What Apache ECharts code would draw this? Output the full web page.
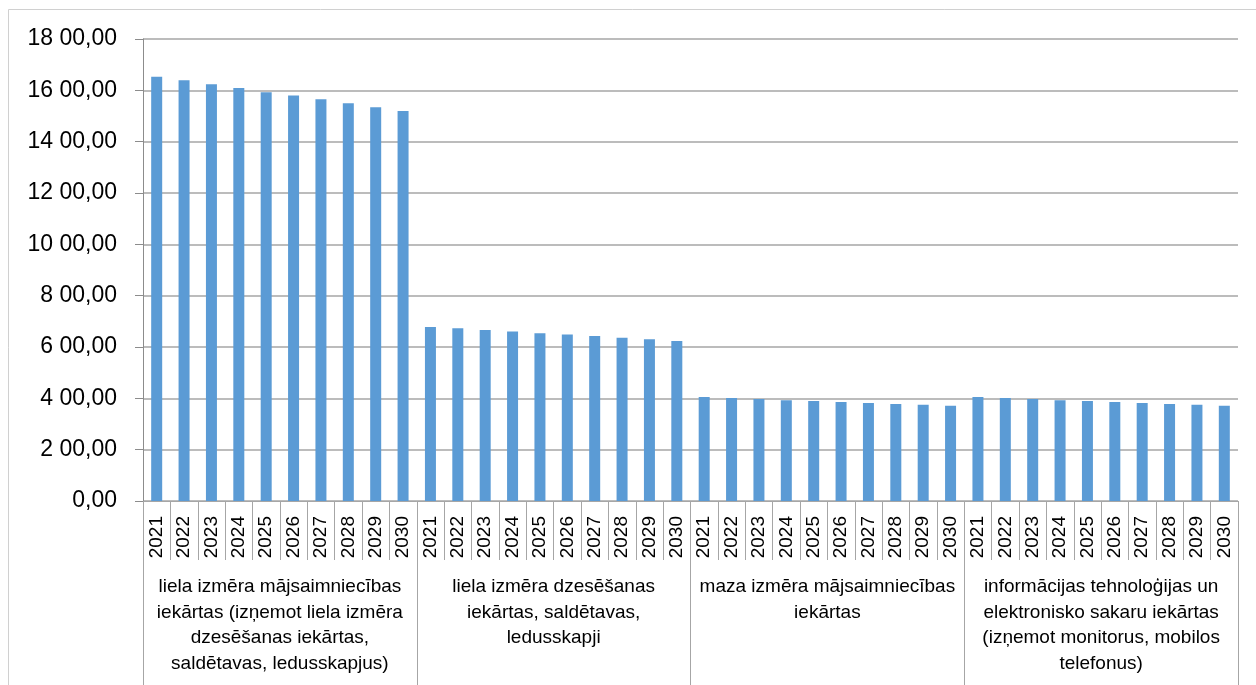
<!DOCTYPE html>
<html>
<head>
<meta charset="utf-8">
<script src="https://cdn.jsdelivr.net/npm/echarts@6/dist/echarts.min.js"></script>
<style>
  html, body { margin: 0; padding: 0; background: #fff; }
  #chart { width: 1256px; height: 685px; }
</style>
</head>
<body>
<div id="chart"></div>
<script>
const years = ['2021', '2022', '2023', '2024', '2025', '2026', '2027', '2028', '2029', '2030']

const groups = [
  'liela izmēra mājsaimniecības\niekārtas (izņemot liela izmēra\ndzesēšanas iekārtas,\nsaldētavas, ledusskapjus)',
  'liela izmēra dzesēšanas\niekārtas, saldētavas,\nledusskapji',
  'maza izmēra mājsaimniecības\niekārtas',
  'informācijas tehnoloģijas un\nelektronisko sakaru iekārtas\n(izņemot monitorus, mobilos\ntelefonus)'
]

const largeHousehold = [1653, 1639, 1624, 1609, 1593, 1580, 1565, 1550, 1534, 1519]
const largeCooling = [678, 673, 666, 660, 654, 649, 643, 636, 630, 623]
const smallHousehold = [405, 401, 397, 393, 390, 386, 382, 378, 375, 371]
const itTelecom = [405, 401, 397, 393, 390, 386, 382, 378, 375, 371]

// flatten into one long category axis: 4 groups x 10 years
const yearCats = groups.flatMap(() => years)
const values = [...largeHousehold, ...largeCooling, ...smallHousehold, ...itTelecom]

const font = 'Liberation Sans, Arial, sans-serif'
const sepColor = '#a6a6a6'

const chart = echarts.init(document.getElementById('chart'))

const option = {
  animation: false,
  backgroundColor: '#fff',
  graphic: [{
    type: 'rect',
    shape: { x: 8.5, y: 9.5, width: 1400, height: 800 },
    style: { fill: 'none', stroke: '#d0d0d0', lineWidth: 1 },
    silent: true
  }],
  grid: { left: 143, right: 18, top: 39, bottom: 184 },
  xAxis: [
    {
      type: 'category',
      data: yearCats,
      position: 'bottom',
      boundaryGap: true,
      axisLine: { show: true, lineStyle: { color: sepColor, width: 1 } },
      axisTick: { show: true, interval: 0, length: 59, lineStyle: { color: sepColor } },
      axisLabel: {
        interval: 0,
        rotate: 90,
        margin: 15,
        color: '#000',
        fontFamily: font,
        fontSize: 19
      }
    },
    {
      type: 'category',
      data: groups,
      position: 'bottom',
      boundaryGap: true,
      axisLine: { show: false },
      axisTick: { show: true, interval: 0, length: 200, lineStyle: { color: sepColor } },
      axisLabel: {
        interval: 0,
        margin: 73,
        color: '#000',
        fontFamily: font,
        fontSize: 19,
        lineHeight: 25.7,
        align: 'center',
        verticalAlign: 'top'
      }
    }
  ],
  yAxis: {
    type: 'value',
    min: 0,
    max: 1800,
    interval: 200,
    axisLine: { show: true, lineStyle: { color: '#8c8c8c' } },
    axisTick: { show: true, length: 8, lineStyle: { color: '#8c8c8c' } },
    splitLine: { show: true, lineStyle: { color: sepColor, width: 1.5 } },
    axisLabel: {
      margin: 26,
      color: '#000',
      fontFamily: font,
      fontSize: 23,
      formatter: v => (v === 0 ? '0,00' : (v / 100) + ' 00,00')
    }
  },
  series: [{
    type: 'bar',
    xAxisIndex: 0,
    data: values,
    barWidth: 11,
    itemStyle: { color: '#5b9bd5' }
  }]
}

chart.setOption(option)
</script>
</body>
</html>
